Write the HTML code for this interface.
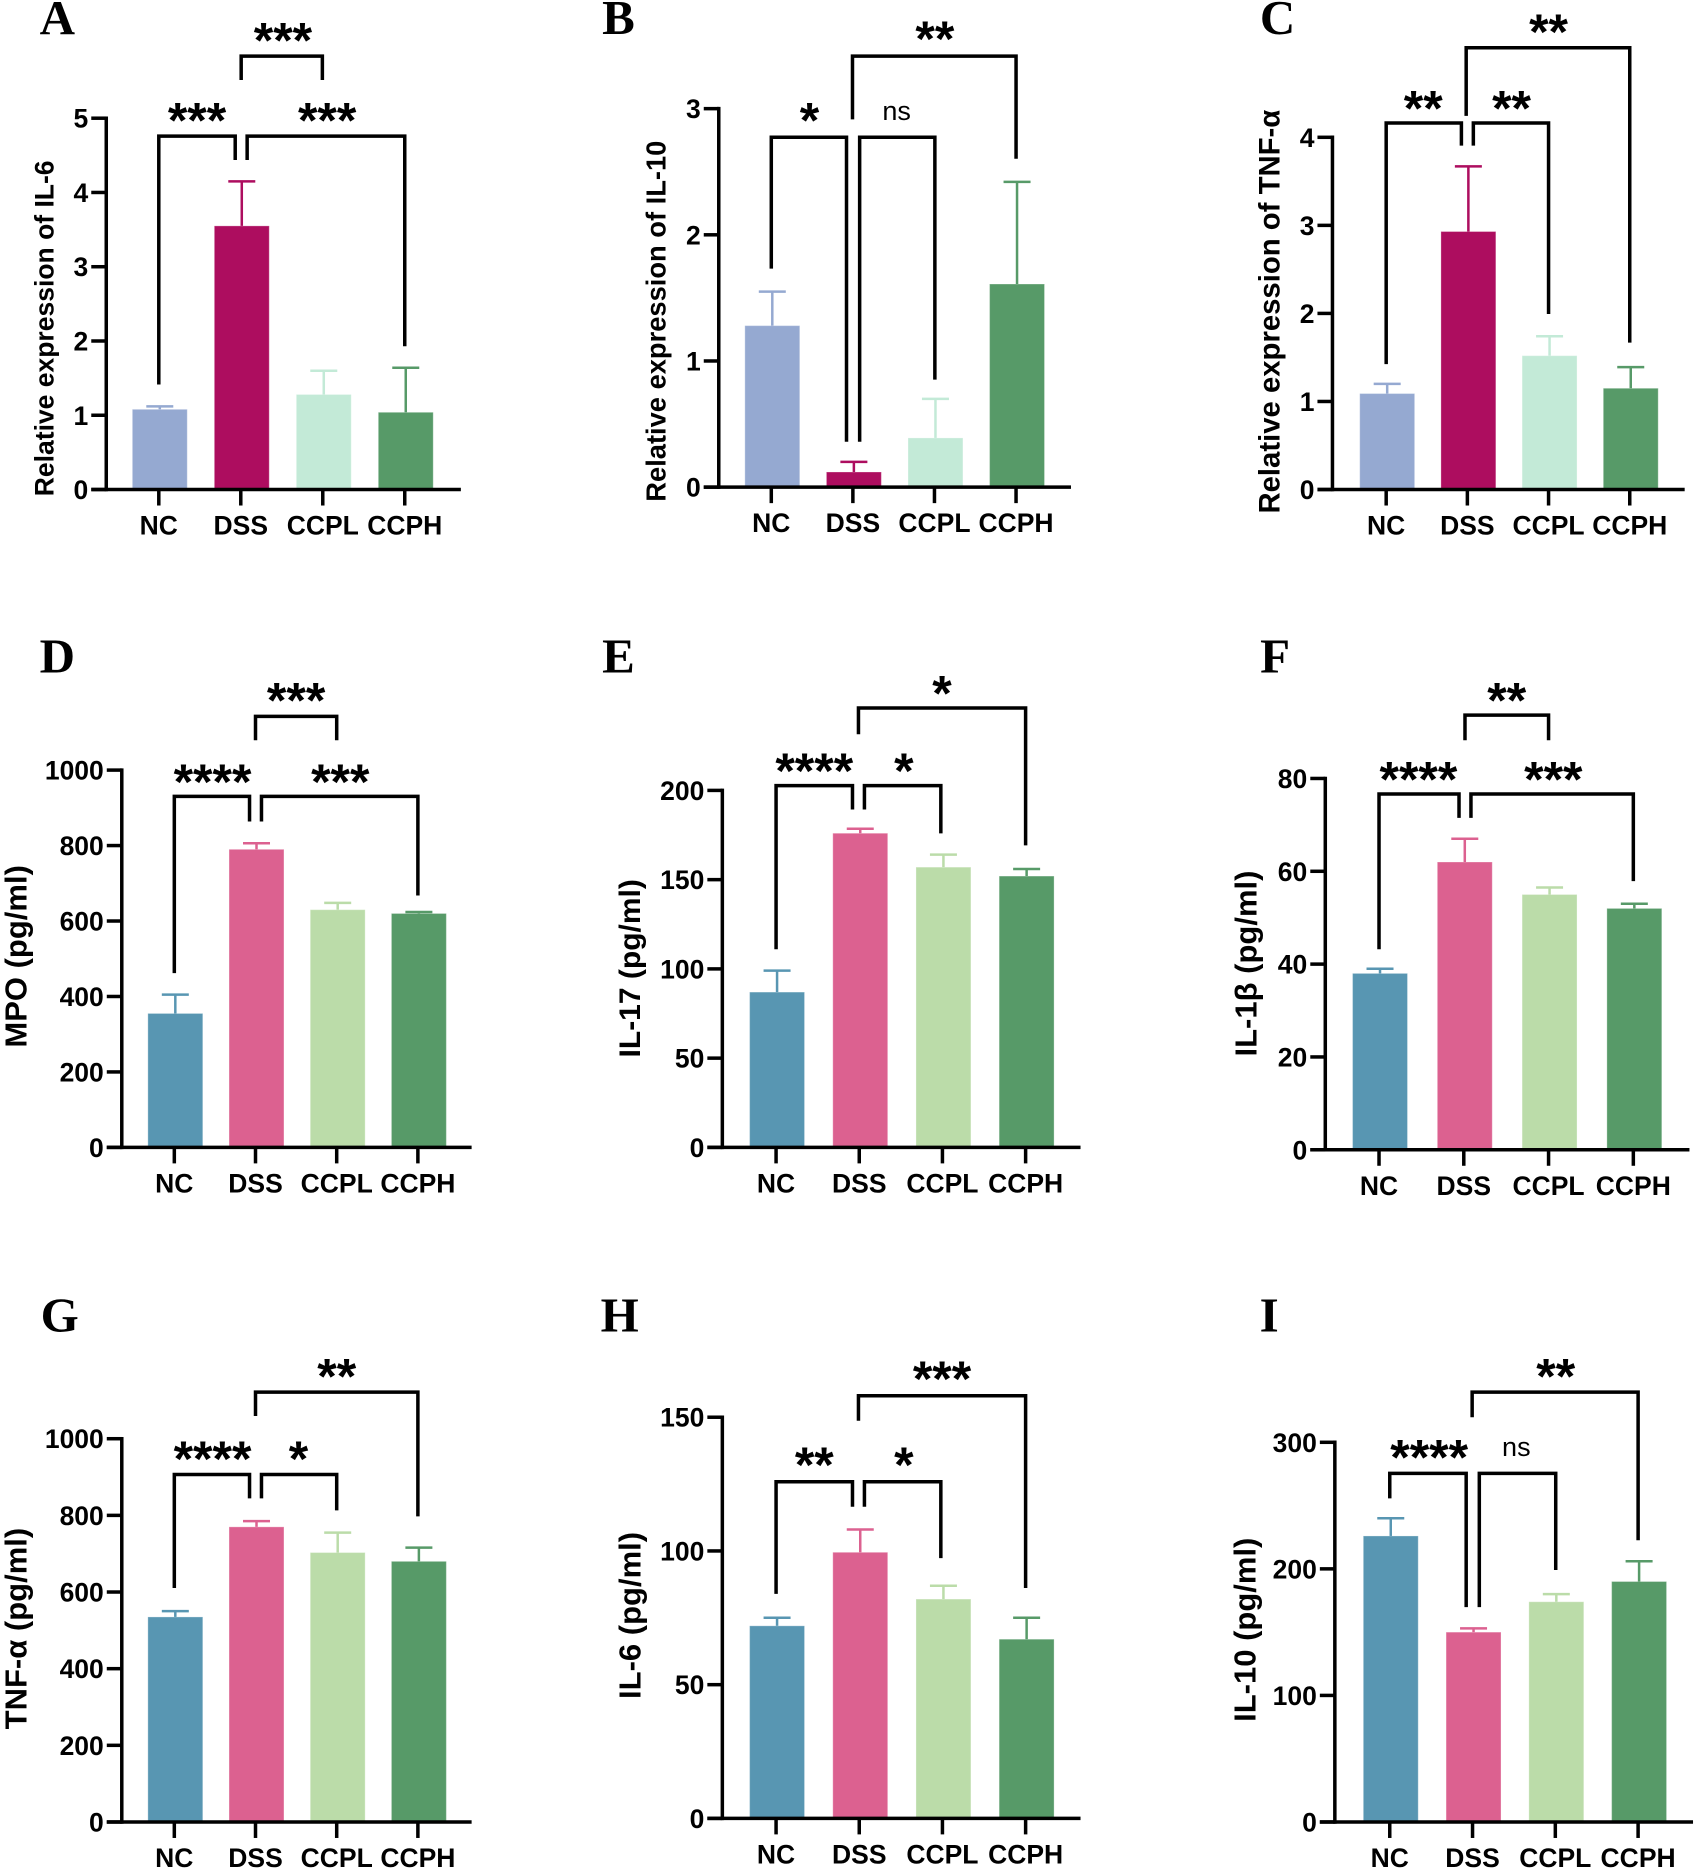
<!DOCTYPE html>
<html lang="en">
<head>
<meta charset="utf-8">
<title>Cytokine expression bar charts</title>
<style>
html,body{margin:0;padding:0;background:#fff;}
svg{display:block;width:1699px;height:1872px;}
text{font-family:"Liberation Sans",Arial,sans-serif;fill:#000;}
.letter{font-family:"Liberation Serif",serif;font-weight:bold;font-size:49px;text-anchor:middle;}
.tick{font-weight:bold;font-size:26.5px;}
.ylab{font-weight:bold;text-anchor:middle;}
.sig{font-weight:bold;font-size:50px;text-anchor:middle;}
.ns{font-size:27px;text-anchor:middle;}
</style>
</head>
<body>
<svg id="figure" xmlns="http://www.w3.org/2000/svg" viewBox="0 0 1699 1872"></svg>
<script>
const categories = ['NC', 'DSS', 'CCPL', 'CCPH'];

const meansA = [1.08, 3.55, 1.28, 1.04];
const errorTopsA = [1.12, 4.15, 1.6, 1.64];
const ticksA = [0, 1, 2, 3, 4, 5];

const meansB = [1.28, 0.12, 0.39, 1.61];
const errorTopsB = [1.55, 0.2, 0.7, 2.42];
const ticksB = [0, 1, 2, 3];

const meansC = [1.09, 2.93, 1.52, 1.15];
const errorTopsC = [1.2, 3.67, 1.74, 1.39];
const ticksC = [0, 1, 2, 3, 4];

const meansD = [355, 790, 630, 620];
const errorTopsD = [405, 806, 648, 624];
const ticksD = [0, 200, 400, 600, 800, 1000];

const meansE = [87, 176, 157, 152];
const errorTopsE = [99, 178.5, 164, 156];
const ticksE = [0, 50, 100, 150, 200];

const meansF = [38, 62, 55, 52];
const errorTopsF = [39, 67, 56.5, 53];
const ticksF = [0, 20, 40, 60, 80];

const meansG = [535, 770, 703, 680];
const errorTopsG = [550, 785, 755, 716];
const ticksG = [0, 200, 400, 600, 800, 1000];

const meansH = [72, 99.5, 82, 67];
const errorTopsH = [75, 108, 87, 75];
const ticksH = [0, 50, 100, 150];

const meansI = [226, 150, 174, 190];
const errorTopsI = [240, 153, 180, 206];
const ticksI = [0, 100, 200, 300];

const paletteTop = ['#95A9D1', '#AD0D5F', '#C3EAD7', '#579A68'];
const paletteLower = ['#5896B2', '#DC6190', '#BBDCA9', '#579A68'];

const S = 1699 / 1423;
const svg = document.getElementById('figure');
const NS = 'http://www.w3.org/2000/svg';

const panels = [
 {id:'A',letter:[48,15],axisX:89,y0:410,yTop:99,first:133,step:68.67,end:386,means:meansA,tops:errorTopsA,ticks:ticksA,palette:paletteTop,
  ylabel:'Relative expression of IL-6',labelPos:[37,275],labelSize:26.5,
  brackets:[
   {x1:202,x2:270,y:47,t1:67,t2:67,sig:'***',sx:237,sy:28},
   {x1:133,x2:197,y:114,t1:322,t2:134,sig:'***',sx:165,sy:95},
   {x1:207,x2:339,y:114,t1:134,t2:290,sig:'***',sx:274,sy:95}]},
 {id:'B',letter:[518,15],axisX:602,y0:408,yTop:91,first:646,step:68.33,end:897,means:meansB,tops:errorTopsB,ticks:ticksB,palette:paletteTop,
  ylabel:'Relative expression of IL-10',labelPos:[549,269],labelSize:27.3,
  brackets:[
   {x1:714,x2:851,y:47,t1:100,t2:133,sig:'**',sx:783,sy:27},
   {x1:646,x2:709,y:115,t1:225,t2:370,sig:'*',sx:678,sy:95},
   {x1:720,x2:783,y:115,t1:370,t2:318,sig:'ns',sx:751,sy:93}]},
 {id:'C',letter:[1070,15],axisX:1116,y0:410,yTop:115,first:1161,step:68,end:1411,means:meansC,tops:errorTopsC,ticks:ticksC,palette:paletteTop,
  ylabel:'Relative expression of TNF-\u03B1',labelPos:[1063,261],labelSize:29.3,
  brackets:[
   {x1:1228,x2:1365,y:40,t1:97,t2:287,sig:'**',sx:1297,sy:21},
   {x1:1161,x2:1224,y:103,t1:305,t2:122,sig:'**',sx:1192,sy:85},
   {x1:1234,x2:1297,y:103,t1:122,t2:263,sig:'**',sx:1266,sy:85}]},
 {id:'D',letter:[48,550],axisX:102,y0:961,yTop:645,first:146,step:68,end:395,means:meansD,tops:errorTopsD,ticks:ticksD,palette:paletteLower,
  ylabel:'MPO (pg/ml)',labelPos:[13,801],labelSize:31,
  brackets:[
   {x1:214,x2:282,y:600,t1:620,t2:620,sig:'***',sx:248,sy:581},
   {x1:146,x2:209,y:667,t1:815,t2:688,sig:'****',sx:178,sy:649},
   {x1:219,x2:350,y:667,t1:688,t2:750,sig:'***',sx:285,sy:649}]},
 {id:'E',letter:[518,550],axisX:605,y0:961,yTop:662,first:650,step:69.67,end:905,means:meansE,tops:errorTopsE,ticks:ticksE,palette:paletteLower,
  ylabel:'IL-17 (pg/ml)',labelPos:[527,811],labelSize:30,
  brackets:[
   {x1:719,x2:859,y:593,t1:615,t2:708,sig:'*',sx:789,sy:575},
   {x1:650,x2:714,y:658,t1:795,t2:678,sig:'****',sx:682,sy:640},
   {x1:724,x2:788,y:658,t1:678,t2:698,sig:'*',sx:757,sy:640}]},
 {id:'F',letter:[1068,550],axisX:1110,y0:963,yTop:652,first:1155,step:71,end:1415,means:meansF,tops:errorTopsF,ticks:ticksF,palette:paletteLower,
  ylabel:'IL-1\u03B2 (pg/ml)',labelPos:[1043,807],labelSize:31,
  brackets:[
   {x1:1227,x2:1297,y:599,t1:620,t2:620,sig:'**',sx:1262,sy:581},
   {x1:1155,x2:1222,y:665,t1:795,t2:685,sig:'****',sx:1188,sy:647},
   {x1:1232,x2:1368,y:665,t1:685,t2:738,sig:'***',sx:1301,sy:647}]},
 {id:'G',letter:[50,1102],axisX:102,y0:1526,yTop:1205,first:146,step:68,end:395,means:meansG,tops:errorTopsG,ticks:ticksG,palette:paletteLower,
  ylabel:'TNF-\u03B1 (pg/ml)',labelPos:[13,1364],labelSize:31,
  brackets:[
   {x1:214,x2:350,y:1166,t1:1186,t2:1270,sig:'**',sx:282,sy:1147},
   {x1:146,x2:209,y:1235,t1:1330,t2:1255,sig:'****',sx:178,sy:1216},
   {x1:219,x2:282,y:1235,t1:1255,t2:1265,sig:'*',sx:250,sy:1216}]},
 {id:'H',letter:[519,1102],axisX:605,y0:1523,yTop:1187,first:650,step:69.67,end:905,means:meansH,tops:errorTopsH,ticks:ticksH,palette:paletteLower,
  ylabel:'IL-6 (pg/ml)',labelPos:[527,1353],labelSize:31,
  brackets:[
   {x1:719,x2:859,y:1169,t1:1190,t2:1330,sig:'***',sx:789,sy:1149},
   {x1:650,x2:714,y:1241,t1:1335,t2:1262,sig:'**',sx:682,sy:1221},
   {x1:724,x2:788,y:1241,t1:1262,t2:1305,sig:'*',sx:757,sy:1221}]},
 {id:'I',letter:[1063,1102],axisX:1118,y0:1526,yTop:1208,first:1164,step:69.33,end:1418,means:meansI,tops:errorTopsI,ticks:ticksI,palette:paletteLower,
  ylabel:'IL-10 (pg/ml)',labelPos:[1042,1365],labelSize:31,
  brackets:[
   {x1:1233,x2:1372,y:1166,t1:1187,t2:1290,sig:'**',sx:1303,sy:1147},
   {x1:1164,x2:1228,y:1234,t1:1255,t2:1346,sig:'****',sx:1197,sy:1215},
   {x1:1239,x2:1303,y:1234,t1:1346,t2:1315,sig:'ns',sx:1270,sy:1212}]}
];

function make(tag, parent, attrs) {
  const el = document.createElementNS(NS, tag);
  for (const k in attrs) el.setAttribute(k, attrs[k]);
  parent.appendChild(el);
  return el;
}

panels.forEach(function (p) {
  const maxTick = p.ticks[p.ticks.length - 1];
  const yScale = function (v) { return S * (p.y0 + (p.yTop - p.y0) * v / maxTick); };
  const xScale = function (i) { return S * (p.first + p.step * i); };
  const barW = 46 * S;

  const g = make('g', svg, {});
  
  

  const letter = make('text', g, {x: S * p.letter[0], y: S * p.letter[1] + 16, class: 'letter'});
  letter.textContent = p.id;
  
  

  const ylab = make('text', g, {class: 'ylab', 'font-size': p.labelSize, transform: 'translate(' + (S * p.labelPos[0] + p.labelSize * 0.36) + ',' + (S * p.labelPos[1]) + ') rotate(-90)'});
  ylab.textContent = p.ylabel;
  
  

  categories.forEach(function (c, i) {
    const cx = xScale(i);
    const bx = cx + 1;
    const top = yScale(p.means[i]);
    const base = yScale(0);
    const errY = yScale(p.tops[i]);
    const col = p.palette[i];

    const bar = make('rect', g, {x: bx - barW / 2, y: top, width: barW, height: base - top, fill: col, stroke: 'rgba(255,255,255,0.3)', 'stroke-width': 1});
    
    

    const stem = make('line', g, {x1: bx, x2: bx, y1: top, y2: errY, stroke: col, 'stroke-width': 2.5});
    
    

    const cap = make('line', g, {x1: bx - 13.5, x2: bx + 13.5, y1: errY, y2: errY, stroke: col, 'stroke-width': 2.5});
    
    

    const tk = make('line', g, {x1: cx, x2: cx, y1: base, y2: base + 16, stroke: '#000', 'stroke-width': 3.5});
    
    

    const lbl = make('text', g, {x: cx, y: base + 45, class: 'tick', 'text-anchor': 'middle'});
    lbl.textContent = c;
    
    
  });

  const ax = S * p.axisX;
  const yAxis = make('line', g, {x1: ax, x2: ax, y1: yScale(maxTick) - 1.75, y2: yScale(0) + 1.75, stroke: '#000', 'stroke-width': 3.5});
  
  

  const xAxis = make('line', g, {x1: ax - 15, x2: S * p.end, y1: yScale(0), y2: yScale(0), stroke: '#000', 'stroke-width': 3.5});
  
  

  p.ticks.forEach(function (t) {
    const y = yScale(t);
    const tk = make('line', g, {x1: ax - 15, x2: ax, y1: y, y2: y, stroke: '#000', 'stroke-width': 3.5});
    
    

    const lbl = make('text', g, {x: ax - 18, y: y + 9.5, class: 'tick', 'text-anchor': 'end'});
    lbl.textContent = t;
    
    
  });

  p.brackets.forEach(function (b) {
    const d = 'M' + S * b.x1 + ' ' + S * b.t1 + 'V' + S * b.y + 'H' + S * b.x2 + 'V' + S * b.t2;
    const path = make('path', g, {d: d, fill: 'none', stroke: '#000', 'stroke-width': 3.5});
    
    

    const isNs = b.sig === 'ns';
    const label = make('text', g, {x: S * b.sx, y: S * b.sy + (isNs ? 9 : 24), class: isNs ? 'ns' : 'sig'});
    label.textContent = b.sig;
    
    
  });
});
</script>
</body>
</html>
